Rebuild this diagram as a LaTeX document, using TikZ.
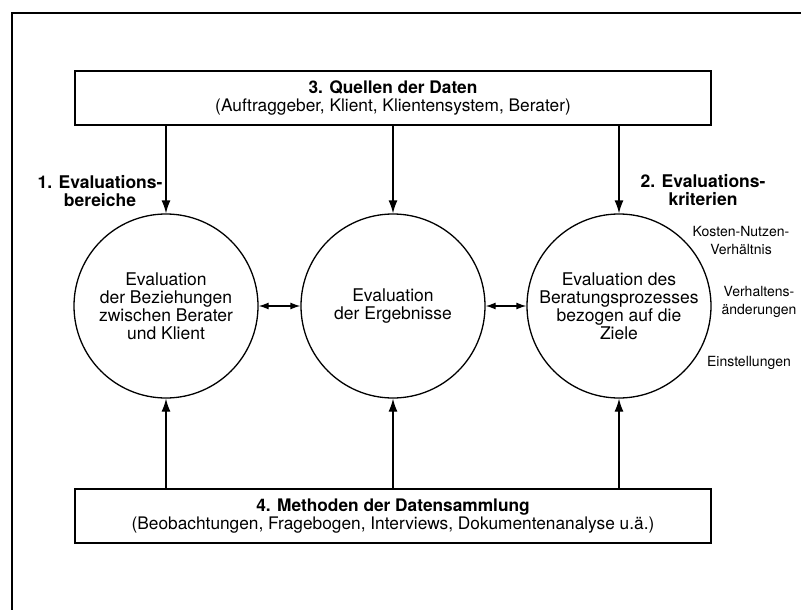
\documentclass[tikz,border=0pt]{standalone}
\usepackage{fontspec}
\setmainfont{TeX Gyre Heros}
\usetikzlibrary{arrows.meta}
\begin{document}
\begin{tikzpicture}[x=1pt,y=-1pt,
  maintext/.style={font=\fontsize{17.5}{18}\selectfont},
  boxtext/.style={font=\fontsize{17.3}{18.5}\selectfont},
  crittext/.style={font=\fontsize{14}{18}\selectfont, align=center, inner sep=0pt},
  headtext/.style={font=\bfseries\fontsize{17.5}{17.5}\selectfont, align=center, inner sep=0pt},
  framebox/.style={draw, line width=1.8pt, minimum width=636pt, minimum height=54pt,
    inner sep=0pt, align=center, boxtext},
  evalcircle/.style={draw, circle, line width=1.3pt, minimum size=184pt, inner sep=0pt,
    align=center, maintext},
  flow/.style={line width=1.3pt, -{Latex[length=13pt,width=9pt]}},
  link/.style={line width=1.3pt, {Latex[length=10pt,width=7pt]}-{Latex[length=10pt,width=7pt]}},
]
\useasboundingbox (0,0) rectangle (801,610);

% outer frame (left and top edge)
\draw[line width=1.8pt] (12,610) -- (12,13) -- (801,13);

% sources and methods
\node[framebox] (src) at (393,98)
  {\textbf{3. Quellen der Daten}\\(Auftraggeber, Klient, Klientensystem, Berater)};
\node[framebox] (meth) at (393,516)
  {\textbf{4. Methoden der Datensammlung}\\(Beobachtungen, Fragebogen, Interviews, Dokumentenanalyse u.ä.)};

% evaluation areas
\node[evalcircle] (rel) at (166,306)
  {Evaluation\\der Beziehungen\\zwischen Berater\\und Klient};
\node[evalcircle] (res) at (393,306)
  {Evaluation\\der Ergebnisse};
\node[evalcircle] (proc) at (619,306)
  {Evaluation des\\Beratungsprozesses\\bezogen auf die\\Ziele};

% data flow from sources and methods
\foreach \c in {rel,res,proc}{
  \draw[flow] (\c |- src.south) -- (\c.north);
  \draw[flow] (\c |- meth.north) -- (\c.south);
}

% links between the areas
\draw[link] (rel.east) -- (res.west);
\draw[link] (res.east) -- (proc.west);

% headings
\node[headtext] (areas) at (100,191) {1. Evaluations-\\bereiche};
\node[headtext] (crit) at (703,190) {2. Evaluations-\\kriterien};

% criteria
\node[crittext] (cost) at (741,241) {Kosten-Nutzen-\\Verhältnis};
\node[crittext] (behav) at (759,302) {Verhaltens-\\änderungen};
\node[crittext] (attit) at (749,363) {Einstellungen};
\end{tikzpicture}
\end{document}
